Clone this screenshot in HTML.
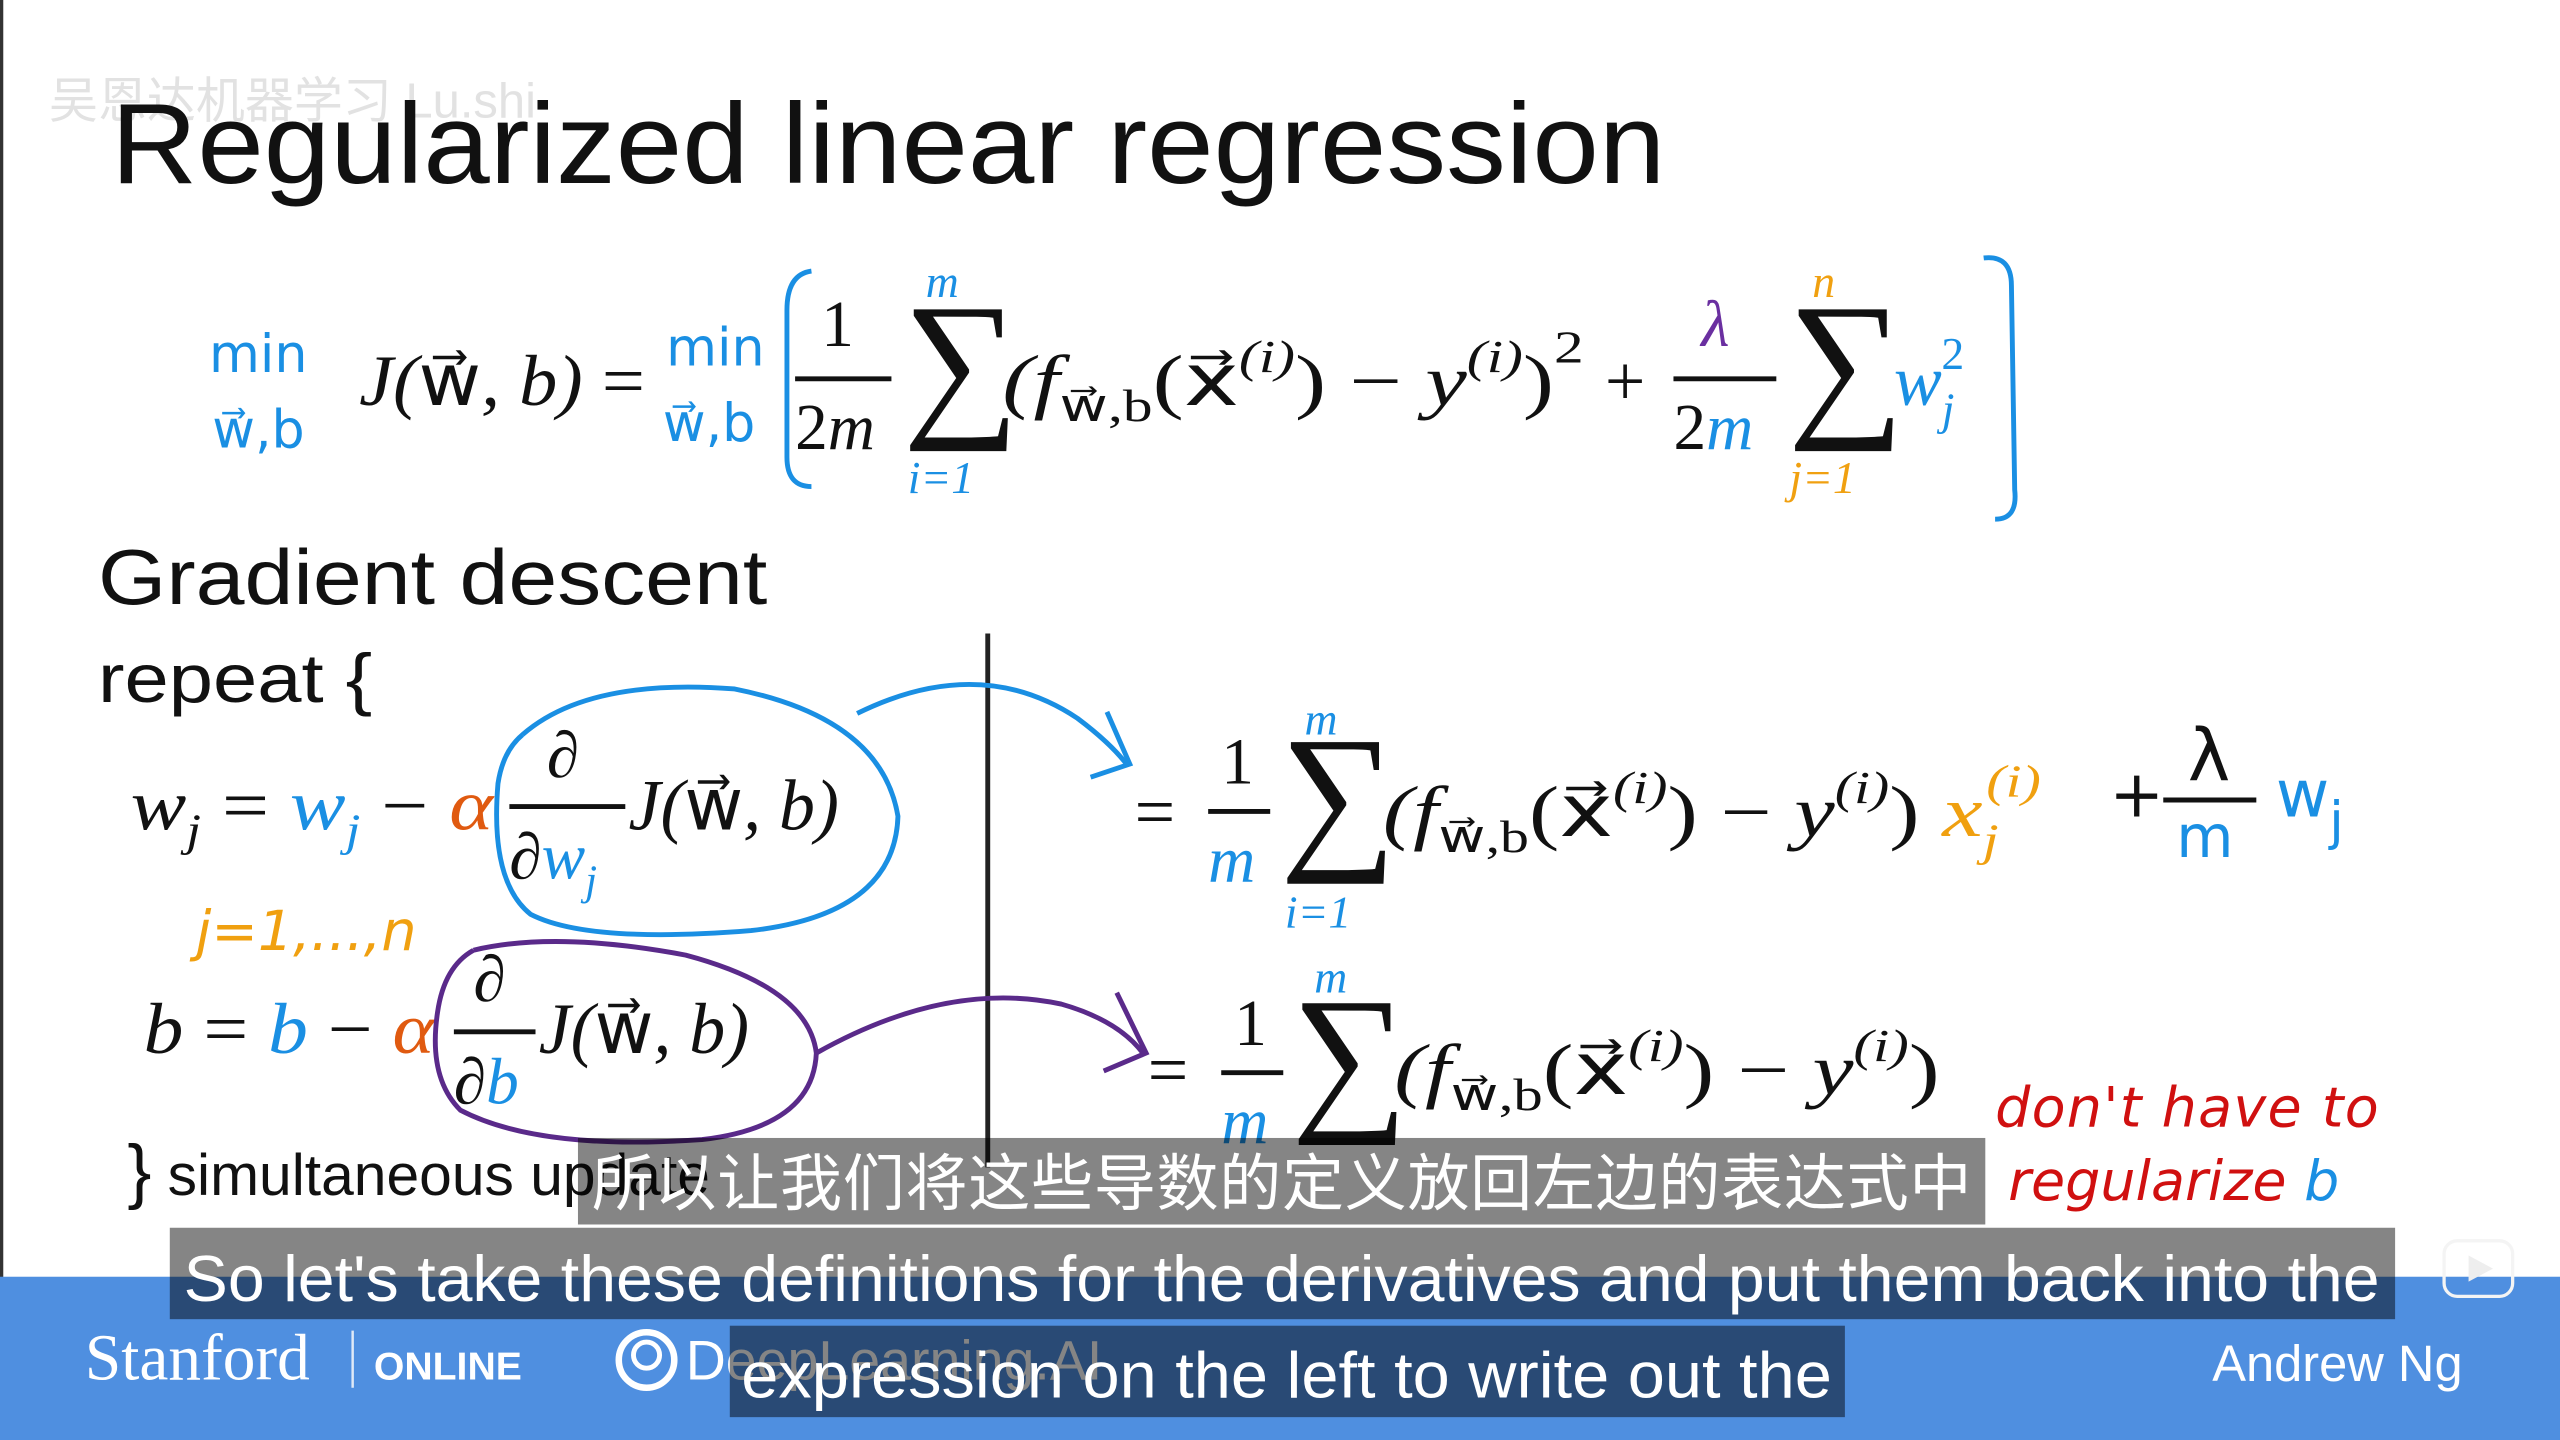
<!DOCTYPE html>
<html><head><meta charset="utf-8"><style>
html,body{margin:0;padding:0;background:#fff;overflow:hidden}
svg{display:block}
.m{font-family:"Liberation Serif",serif;font-style:italic}
.r{font-family:"Liberation Serif",serif;font-style:normal}
.h{font-family:"DejaVu Sans","Liberation Sans",sans-serif}
</style></head><body>
<svg width="2560" height="1440" viewBox="0 0 1568 882" xmlns="http://www.w3.org/2000/svg">
<rect width="1568" height="882" fill="#fff"/>
<rect x="0" y="0" width="2" height="882" fill="#333"/>
<text x="30" y="72" font-family="Liberation Sans,Noto Sans CJK SC,sans-serif" font-size="30" fill="#e2e2e2">吴恩达机器学习 Lu.shi</text>
<text x="68" y="112" font-family="Liberation Sans,sans-serif" font-size="70" fill="#111" textLength="952" lengthAdjust="spacingAndGlyphs">Regularized linear regression</text>

<!-- cost function -->
<g fill="#1a8fe3" class="h" font-size="32">
<text x="128" y="228">min</text><text x="130" y="274">w⃗,b</text>
<text x="408" y="224">min</text><text x="406" y="270">w⃗,b</text>
</g>
<text x="220" y="248" class="m" font-size="44" fill="#111" textLength="175" lengthAdjust="spacingAndGlyphs">J(<tspan class="r">w⃗</tspan>, b) <tspan class="r">=</tspan></text>
<path d="M497 166 Q482 168 482 190 L482 280 Q482 298 497 298" stroke="#1a8fe3" stroke-width="3" fill="none"/>
<text x="503" y="212" class="r" font-size="40" fill="#111">1</text>
<line x1="487" y1="232" x2="546" y2="232" stroke="#111" stroke-width="3"/>
<text x="487" y="275" class="r" font-size="40" fill="#111">2<tspan class="m">m</tspan></text>
<text x="553" y="255" class="r" font-size="100" fill="#111">∑</text>
<text x="567" y="182" class="m" font-size="28" fill="#1a8fe3">m</text>
<text x="556" y="302" class="m" font-size="28" fill="#1a8fe3">i=1</text>
<text x="614" y="248" class="m" font-size="44" fill="#111" textLength="356" lengthAdjust="spacingAndGlyphs">(f<tspan font-size="28" dy="10" class="r">w⃗,b</tspan><tspan dy="-10" class="r">(x⃗</tspan><tspan font-size="28" dy="-20">(i)</tspan><tspan dy="20" class="r">) − </tspan>y<tspan font-size="28" dy="-20">(i)</tspan><tspan dy="20" class="r">)</tspan><tspan font-size="28" dy="-26" class="r">2</tspan></text>
<text x="983" y="248" class="r" font-size="44" fill="#111">+</text>
<text x="1042" y="212" class="m" font-size="40" fill="#6a2fa0">λ</text>
<line x1="1025" y1="232" x2="1088" y2="232" stroke="#111" stroke-width="3"/>
<text x="1025" y="275" class="r" font-size="40" fill="#111">2<tspan class="m" fill="#1a8fe3">m</tspan></text>
<text x="1095" y="255" class="r" font-size="100" fill="#111">∑</text>
<text x="1110" y="182" class="m" font-size="28" fill="#f0a010">n</text>
<text x="1096" y="302" class="m" font-size="28" fill="#f0a010">j=1</text>
<text x="1160" y="248" class="m" font-size="44" fill="#1a8fe3">w<tspan font-size="28" dy="12">j</tspan><tspan font-size="28" dx="-8" dy="-34" class="r">2</tspan></text>
<path d="M1215 158 Q1232 156 1232 175 L1234 300 Q1236 318 1222 318" stroke="#1a8fe3" stroke-width="3" fill="none"/>

<text x="60" y="370" font-family="Liberation Sans,sans-serif" font-size="48" fill="#111" textLength="410" lengthAdjust="spacingAndGlyphs">Gradient descent</text>
<text x="60" y="430" font-family="Liberation Sans,sans-serif" font-size="42" fill="#111" textLength="168" lengthAdjust="spacingAndGlyphs">repeat {</text>

<!-- w row -->
<text x="80" y="508" class="m" font-size="44" fill="#111" textLength="222" lengthAdjust="spacingAndGlyphs">w<tspan font-size="28" dy="10">j</tspan><tspan dy="-10" class="r"> = </tspan><tspan fill="#1a8fe3">w<tspan font-size="28" dy="10">j</tspan></tspan><tspan dy="-10" class="r"> − </tspan><tspan fill="#e05a10">α</tspan></text>
<text x="335" y="476" class="r" font-size="40" fill="#111">∂</text>
<line x1="312" y1="494" x2="383" y2="494" stroke="#111" stroke-width="3"/>
<text x="312" y="538" class="m" font-size="40" fill="#111"><tspan class="r">∂</tspan><tspan fill="#1a8fe3">w<tspan font-size="26" dy="10">j</tspan></tspan></text>
<text x="385" y="508" class="m" font-size="44" fill="#111">J(<tspan class="r">w⃗</tspan>, b)</text>
<path d="M320 450 Q360 415 450 422 Q540 440 550 500 Q548 560 460 570 Q360 578 325 560 Q300 540 305 480 Q308 460 320 450" stroke="#1a8fe3" stroke-width="3" fill="none"/>
<text x="120" y="582" class="h" font-size="34" fill="#f0a010" font-style="italic">j=1,...,n</text>

<!-- b row -->
<text x="88" y="645" class="m" font-size="44" fill="#111" textLength="178" lengthAdjust="spacingAndGlyphs">b<tspan class="r"> = </tspan><tspan fill="#1a8fe3">b</tspan><tspan class="r"> − </tspan><tspan fill="#e05a10">α</tspan></text>
<text x="290" y="613" class="r" font-size="40" fill="#111">∂</text>
<line x1="278" y1="632" x2="328" y2="632" stroke="#111" stroke-width="3"/>
<text x="278" y="676" class="m" font-size="40" fill="#111"><tspan class="r">∂</tspan><tspan fill="#1a8fe3">b</tspan></text>
<text x="330" y="645" class="m" font-size="44" fill="#111">J(<tspan class="r">w⃗</tspan>, b)</text>
<path d="M290 582 Q340 570 420 585 Q495 605 500 645 Q498 690 430 698 Q330 705 282 680 Q262 660 268 620 Q272 592 290 582" stroke="#5a2a8a" stroke-width="3" fill="none"/>

<text x="78" y="732" font-family="Liberation Sans,sans-serif" font-size="36" fill="#111"><tspan font-size="44">}</tspan> simultaneous update</text>

<line x1="605" y1="388" x2="605" y2="715" stroke="#222" stroke-width="3"/>

<!-- arrows -->
<path d="M525 437 Q600 400 660 440 Q680 455 690 468" stroke="#1a8fe3" stroke-width="3" fill="none"/>
<path d="M678 436 L692 468 L668 476" stroke="#1a8fe3" stroke-width="3" fill="none"/>
<path d="M500 645 Q580 600 650 615 Q685 625 700 645" stroke="#5a2a8a" stroke-width="3" fill="none"/>
<path d="M684 608 L702 645 L676 656" stroke="#5a2a8a" stroke-width="3" fill="none"/>

<!-- right row1 -->
<text x="695" y="512" class="r" font-size="44" fill="#111">=</text>
<text x="748" y="480" class="r" font-size="40" fill="#111">1</text>
<line x1="740" y1="497" x2="778" y2="497" stroke="#111" stroke-width="3"/>
<text x="740" y="540" class="m" font-size="40" fill="#1a8fe3">m</text>
<text x="784" y="520" class="r" font-size="100" fill="#111">∑</text>
<text x="799" y="450" class="m" font-size="28" fill="#1a8fe3">m</text>
<text x="787" y="568" class="m" font-size="28" fill="#1a8fe3">i=1</text>
<text x="847" y="512" class="m" font-size="44" fill="#111" textLength="403" lengthAdjust="spacingAndGlyphs">(f<tspan font-size="28" dy="10" class="r">w⃗,b</tspan><tspan dy="-10" class="r">(x⃗</tspan><tspan font-size="28" dy="-20">(i)</tspan><tspan dy="20" class="r">) − </tspan>y<tspan font-size="28" dy="-20">(i)</tspan><tspan dy="20" class="r">) </tspan><tspan fill="#f0a010">x<tspan font-size="28" dy="12">j</tspan><tspan font-size="28" dx="-6" dy="-36">(i)</tspan></tspan></text>
<text x="1292" y="500" class="h" font-size="40" fill="#111">+</text>
<text x="1340" y="478" class="h" font-size="44" fill="#111">λ</text>
<line x1="1325" y1="490" x2="1382" y2="490" stroke="#111" stroke-width="3"/>
<text x="1333" y="525" class="h" font-size="36" fill="#1a8fe3">m</text>
<text x="1394" y="500" class="h" font-size="40" fill="#1a8fe3">w<tspan dy="14" font-size="32">j</tspan></text>

<!-- right row2 -->
<text x="703" y="670" class="r" font-size="44" fill="#111">=</text>
<text x="756" y="640" class="r" font-size="40" fill="#111">1</text>
<line x1="748" y1="657" x2="786" y2="657" stroke="#111" stroke-width="3"/>
<text x="748" y="700" class="m" font-size="40" fill="#1a8fe3">m</text>
<text x="791" y="680" class="r" font-size="100" fill="#111">∑</text>
<text x="805" y="608" class="m" font-size="28" fill="#1a8fe3">m</text>
<text x="854" y="670" class="m" font-size="44" fill="#111" textLength="334" lengthAdjust="spacingAndGlyphs">(f<tspan font-size="28" dy="10" class="r">w⃗,b</tspan><tspan dy="-10" class="r">(x⃗</tspan><tspan font-size="28" dy="-20">(i)</tspan><tspan dy="20" class="r">) − </tspan>y<tspan font-size="28" dy="-20">(i)</tspan><tspan dy="20" class="r">)</tspan></text>
<text x="1222" y="690" class="h" font-size="34" fill="#d01010" font-style="italic" textLength="235">don't have to</text>
<text x="1230" y="735" class="h" font-size="34" fill="#d01010" font-style="italic">regularize <tspan fill="#1a8fe3">b</tspan></text>

<!-- bottom bar -->
<rect x="0" y="782" width="1568" height="100" fill="#4f8fe0"/>
<text x="52" y="845" font-family="Liberation Serif,serif" font-size="40" fill="#fff">Stanford</text>
<line x1="216" y1="815" x2="216" y2="850" stroke="#dfe9f7" stroke-width="1.5"/>
<text x="229" y="845" font-family="Liberation Sans,sans-serif" font-weight="bold" font-size="24" fill="#fff">ONLINE</text>
<circle cx="396" cy="833" r="17" fill="none" stroke="#fff" stroke-width="4"/>
<circle cx="396" cy="830" r="8" fill="none" stroke="#fff" stroke-width="3"/>
<text x="420" y="845" font-family="Liberation Sans,sans-serif" font-size="34" fill="#fff">DeepLearning.AI</text>
<text x="1355" y="846" font-family="Liberation Sans,sans-serif" font-size="31" fill="#fff">Andrew Ng</text>
<rect x="1497" y="760" width="42" height="34" rx="8" fill="none" stroke="#f4f4f4" stroke-width="2"/>
<path d="M1512 769 L1527 777 L1512 785 Z" fill="#eee"/>

<!-- subtitles -->
<rect x="354" y="697" width="862" height="53" fill="rgba(0,0,0,0.48)"/>
<text x="785" y="738" text-anchor="middle" font-family="Liberation Sans,Noto Sans CJK SC,sans-serif" font-size="38" fill="#fff" textLength="845">所以让我们将这些导数的定义放回左边的表达式中</text>
<rect x="104" y="752" width="1363" height="56" fill="rgba(0,0,0,0.48)"/>
<text x="785" y="797" text-anchor="middle" font-family="Liberation Sans,sans-serif" font-size="40" fill="#fff" textLength="1345" lengthAdjust="spacingAndGlyphs">So let's take these definitions for the derivatives and put them back into the</text>
<rect x="447" y="812" width="683" height="56" fill="rgba(0,0,0,0.48)"/>
<text x="788" y="856" text-anchor="middle" font-family="Liberation Sans,sans-serif" font-size="40" fill="#fff" textLength="668" lengthAdjust="spacingAndGlyphs">expression on the left to write out the</text>
</svg>
</body></html>
